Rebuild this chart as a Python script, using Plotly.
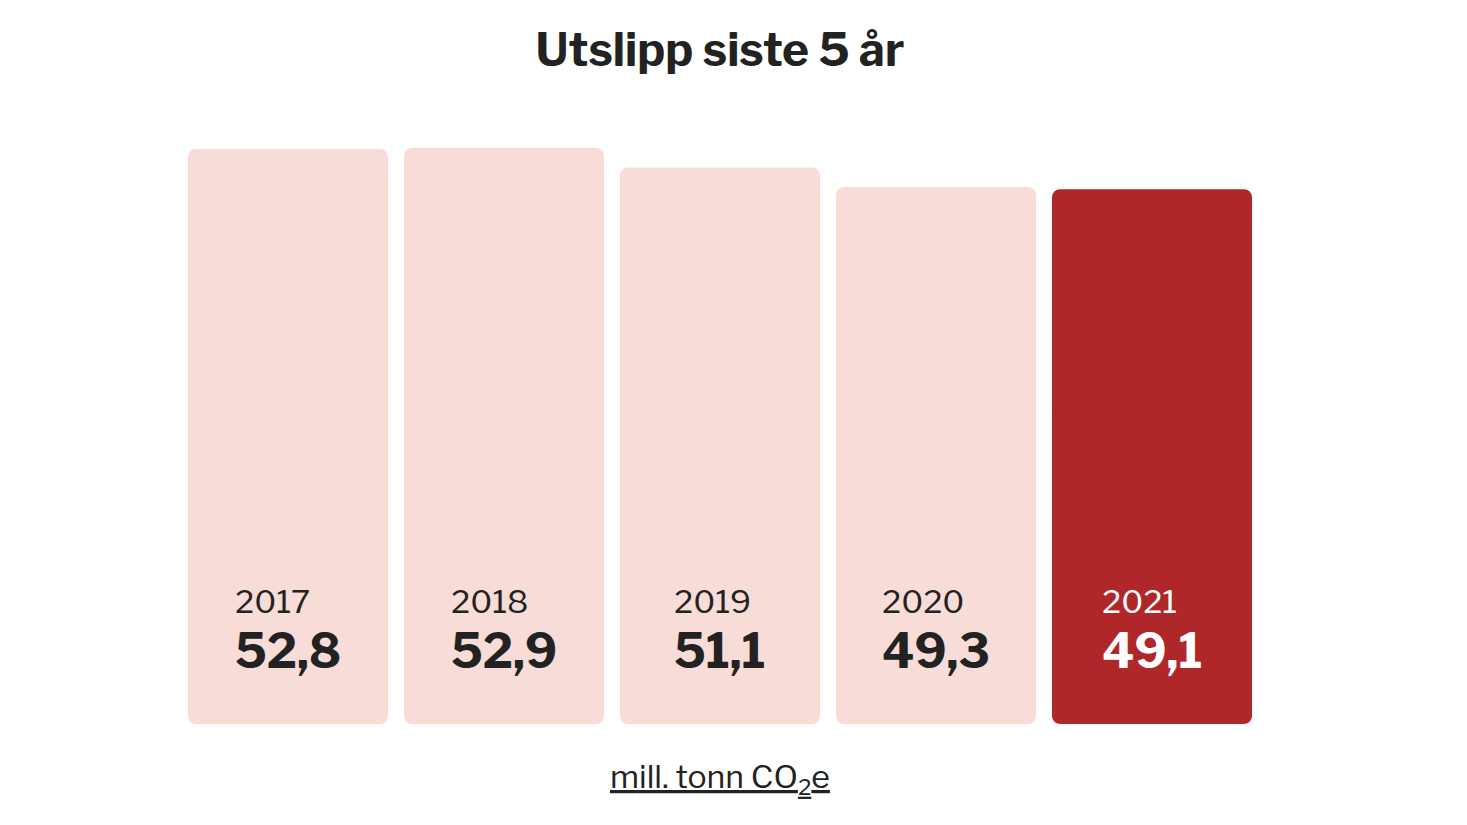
import plotly.graph_objects as go

years = ["2017", "2018", "2019", "2020", "2021"]
values = [52.8, 52.9, 51.1, 49.3, 49.1]
value_labels = ["52,8", "52,9", "51,1", "49,3", "49,1"]

PINK = "#f8dcd7"
RED = "#b0272a"
INK = "#222222"
FONT = "Libre Franklin, Inter, sans-serif"

W, H = 1451, 809  # page body adds 8px margin around the figure

colors = [PINK] * (len(values) - 1) + [RED]
xs = list(range(len(values)))

fig = go.Figure()
# each bar is two overlapping halves so that both ends get rounded corners
fig.add_trace(go.Bar(
    x=xs, y=[v * 0.6 for v in values], base=[v * 0.4 for v in values],
    marker=dict(color=colors, line=dict(width=0), cornerradius=8),
    width=200 / 216, hoverinfo="skip",
))
fig.add_trace(go.Bar(
    x=xs, y=[-v * 0.6 for v in values], base=[v * 0.6 for v in values],
    marker=dict(color=colors, line=dict(width=0), cornerradius=8),
    width=200 / 216, hoverinfo="skip",
))

for i, (yr, lab) in enumerate(zip(years, value_labels)):
    col = "white" if i == len(values) - 1 else INK
    fig.add_annotation(
        x=i, y=0, xref="x", yref="y", xanchor="center", yanchor="bottom",
        yshift=42, align="left", showarrow=False,
        text=f"<span style='font-size:32px'>{yr}</span><br>"
             f"<b><span style='font-size:47px'>{lab}</span></b>",
        font=dict(family=FONT, size=42, color=col),
    )

fig.add_annotation(
    x=0.5, y=-0.088, xref="paper", yref="paper", xanchor="center", yanchor="middle",
    showarrow=False, text="<u>mill. tonn CO<sub>2</sub>e</u>",
    font=dict(family=FONT, size=32, color=INK),
)

fig.update_layout(
    width=W, height=H,
    margin=dict(l=172, r=199, t=93, b=93),
    barmode="overlay", bargap=16 / 216, showlegend=False,
    paper_bgcolor="white", plot_bgcolor="white",
    title=dict(text="<b>Utslipp siste 5 år</b>", x=712 / W, xanchor="center",
               y=1 - 42 / H, yanchor="middle",
               font=dict(family=FONT, size=46, color=INK)),
    xaxis=dict(range=[-0.5, 4.5], visible=False, fixedrange=True),
    yaxis=dict(range=[0, 57.2], visible=False, fixedrange=True),
)

fig.write_html("out.html")
